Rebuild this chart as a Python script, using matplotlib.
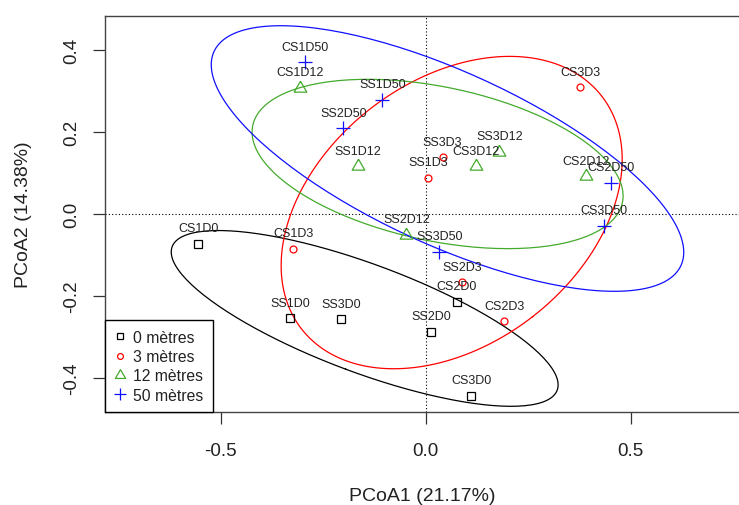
import numpy as np
import matplotlib
matplotlib.use("Agg")
import matplotlib.pyplot as plt
from matplotlib.lines import Line2D

plt.rcParams["font.family"] = ["Liberation Sans", "DejaVu Sans"]

# PCoA site scores
sites = ["CS1D0", "SS1D0", "SS3D0", "SS2D0", "CS2D0", "CS3D0",
         "CS1D3", "SS1D3", "SS3D3", "CS3D3", "SS2D3", "CS2D3",
         "CS1D12", "SS1D12", "SS2D12", "SS3D12", "CS3D12", "CS2D12",
         "CS1D50", "SS1D50", "SS2D50", "SS3D50", "CS2D50", "CS3D50"]
pcoa1 = [-0.555, -0.331, -0.207, 0.013, 0.076, 0.111,
         -0.323, 0.005, 0.041, 0.377, 0.088, 0.192,
         -0.306, -0.166, -0.047, 0.180, 0.123, 0.390,
         -0.294, -0.106, -0.201, 0.033, 0.452, 0.435]
pcoa2 = [-0.073, -0.255, -0.257, -0.287, -0.214, -0.444,
         -0.085, 0.088, 0.138, 0.309, -0.167, -0.262,
         0.308, 0.116, -0.051, 0.152, 0.116, 0.092,
         0.370, 0.279, 0.209, -0.092, 0.076, -0.029]
depth = [0, 0, 0, 0, 0, 0,
         3, 3, 3, 3, 3, 3,
         12, 12, 12, 12, 12, 12,
         50, 50, 50, 50, 50, 50]

depth_levels = [0, 3, 12, 50]
legend_labels = ["0 mètres", "3 mètres", "12 mètres", "50 mètres"]
var_axis1 = 21.17
var_axis2 = 14.38
ellipse_conf = 0.8

colors = ["black", "#FF0000", "#44AA2C", "#1010FF"]

# R style triangle (centred on centroid)
tri = [(0, 1.555), (1.347, -0.778), (-1.347, -0.778), (0, 1.555)]
markers = ["s", "o", tri, "+"]
msizes = [6.0, 5.0, 10.5, 9.5]
leg_ms = [5.0, 4.2, 8.5, 8.0]

x = np.array(pcoa1)
y = np.array(pcoa2)
dep = np.array(depth)

fig = plt.figure(figsize=(7.39, 5.06), dpi=100)
ax = fig.add_axes([105 / 739, (506 - 413.2) / 506, 641.4 / 739, 396.4 / 506])

ax.axhline(0, color="black", lw=0.8, ls=(0, (1, 2)), zorder=1)
ax.axvline(0, color="black", lw=0.8, ls=(0, (1, 2)), zorder=1)

scale = np.sqrt(-2 * np.log(1 - ellipse_conf))
t = np.linspace(0, 2 * np.pi, 200)

for lev, col, mk, ms in zip(depth_levels, colors, markers, msizes):
    m = dep == lev
    ax.plot(x[m], y[m], ls="none", marker=mk, ms=ms, mfc="none",
            mec=col, mew=0.9, zorder=3)

    # ellipse from group covariance
    pts = np.vstack([x[m], y[m]])
    cen = pts.mean(axis=1)
    cov = np.cov(pts)
    vals, vecs = np.linalg.eigh(cov)
    circ = np.vstack([np.cos(t), np.sin(t)]) * np.sqrt(vals)[:, None] * scale
    ell = vecs @ circ + cen[:, None]
    ax.plot(ell[0], ell[1], color=col, lw=0.9, zorder=2)

for name, px, py in zip(sites, pcoa1, pcoa2):
    ax.annotate(name, (px, py), xytext=(0, 15.5), textcoords="offset pixels",
                ha="center", va="center", fontsize=9, color="#222222", zorder=4)

ax.set_xlim(-0.7822, 0.7822)
ax.set_ylim(-0.484, 0.484)
ax.set_xticks([-0.5, 0.0, 0.5])
ax.set_yticks([-0.4, -0.2, 0.0, 0.2, 0.4])
ax.set_xticklabels(["-0.5", "0.0", "0.5"])
ax.set_yticklabels(["-0.4", "-0.2", "0.0", "0.2", "0.4"])

ax.tick_params(axis="both", length=8.6, width=0.9, color="#333333",
               labelsize=13.5, labelcolor="#222222")
ax.tick_params(axis="x", pad=12.5)
ax.tick_params(axis="y", pad=9, labelrotation=90)
for lab in ax.get_yticklabels():
    lab.set_va("center")

for spine in ax.spines.values():
    spine.set_color("#444444")
    spine.set_linewidth(1.0)

fig.text(422.7 / 739, 1 - 497 / 506, f"PCoA1 ({var_axis1:.2f}%)",
         ha="center", va="center", fontsize=14, color="#222222")
fig.text(24 / 739, 1 - 215 / 506, f"PCoA2 ({var_axis2:.2f}%)",
         ha="center", va="center", fontsize=14, color="#222222", rotation=90)

handles = [Line2D([], [], ls="none", marker=mk, ms=ms, mfc="none", mec=col, mew=0.9)
           for mk, ms, col in zip(markers, leg_ms, colors)]
leg = ax.legend(handles, legend_labels, loc="lower left", bbox_to_anchor=(0, 0),
                borderaxespad=0, fontsize=11.3, fancybox=False, framealpha=1,
                edgecolor="black", borderpad=0.6, handlelength=0.75,
                handletextpad=0.45, labelspacing=0.28, labelcolor="#222222")
leg.get_frame().set_linewidth(1.0)
leg.set_zorder(5)

fig.savefig("out.png", dpi=100)
